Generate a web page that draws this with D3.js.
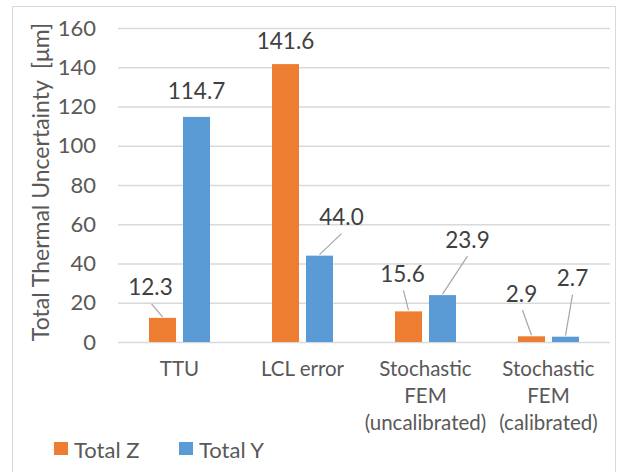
<!DOCTYPE html>
<html>
<head>
<meta charset="utf-8">
<script src="https://cdn.jsdelivr.net/npm/d3@7"></script>
<style>
  html, body { margin: 0; padding: 0; background: #fff; }
  svg text { font-family: Lato, "Open Sans", sans-serif; white-space: pre; }
</style>
</head>
<body>
<div id="chart"></div>
<script>
// --- data ---
const categories = [
    ["TTU"],
    ["LCL error"],
    ["Stochastic", "FEM", "(uncalibrated)"],
    ["Stochastic", "FEM", "(calibrated)"]
];
const seriesNames = ["Total Z", "Total Y"];
const totalZ = [12.3, 141.6, 15.6, 2.9];
const totalY = [114.7, 44.0, 23.9, 2.7];
const yTicks = [0, 20, 40, 60, 80, 100, 120, 140, 160];

// label nudges (px) where the labels were dragged away from the bars
const zLabelNudge = [[-12, -31], [0, -24], [-6, -38], [-10, -43]];
const yLabelNudge = [[0, -26], [22, -39], [25, -56], [7, -59]];

const COLORS = ["#ED7D31", "#5B9BD5"];
const TEXT = "#595959";
const GRID = "#D9D9D9";

const W = 622, H = 472;
const margin = { top: 28, right: 12, bottom: 130, left: 118 };
const width = W - margin.left - margin.right;
const height = H - margin.top - margin.bottom;

const svg = d3.select("#chart").append("svg")
    .attr("width", W)
    .attr("height", H);

// outer chart border
svg.append("rect")
    .attr("x", 12.5).attr("y", 6.5)
    .attr("width", 603).attr("height", 480)
    .attr("fill", "none")
    .attr("stroke", GRID);

const g = svg.append("g")
    .attr("transform", `translate(${margin.left},${margin.top})`);

const x0 = d3.scaleBand()
    .domain(d3.range(categories.length))
    .range([0, width]);

const barW = 27, gap = 7;

const y = d3.scaleLinear()
    .domain([0, 160])
    .range([height, 0]);

// gridlines + y tick labels
const yAxis = g.append("g")
    .call(d3.axisLeft(y).tickValues(yTicks).tickSize(-width).tickPadding(22));
yAxis.select(".domain").remove();
yAxis.selectAll(".tick line").attr("stroke", GRID).attr("stroke-width", 1.3);
yAxis.selectAll(".tick text")
    .attr("fill", TEXT)
    .style("font-size", "22px");

// y axis title
svg.append("text")
    .attr("transform", `translate(40,${margin.top + height / 2 - 3}) rotate(-90)`)
    .attr("text-anchor", "middle")
    .attr("dominant-baseline", "central")
    .attr("fill", TEXT)
    .style("font-size", "23px")
    .text("Total Thermal Uncertainty  [\u03bcm]");

// category labels
const catG = g.selectAll(".cat")
    .data(categories)
    .enter().append("text")
    .attr("class", "cat")
    .attr("x", (d, i) => x0(i) + x0.bandwidth() / 2)
    .attr("y", height + 34)
    .attr("text-anchor", "middle")
    .attr("fill", TEXT)
    .style("font-size", "20.5px");
catG.selectAll("tspan")
    .data(d => d)
    .enter().append("tspan")
    .attr("x", function () { return this.parentNode.getAttribute("x"); })
    .attr("dy", (d, i) => i === 0 ? 0 : 27)
    .text(d => d);

const series = [totalZ, totalY];
const nudges = [zLabelNudge, yLabelNudge];

function barCx(s, i) {
    const c = x0(i) + x0.bandwidth() / 2;
    return s === 0 ? c - gap / 2 - barW / 2 : c + gap / 2 + barW / 2;
}

series.forEach((vals, s) => {
    g.selectAll(`.bar-${s}`)
        .data(vals)
        .enter().append("rect")
        .attr("class", `bar-${s}`)
        .attr("x", (d, i) => barCx(s, i) - barW / 2)
        .attr("width", barW)
        .attr("y", d => y(d))
        .attr("height", d => height - y(d))
        .attr("fill", COLORS[s]);
});

// data labels and leader lines
series.forEach((vals, s) => {
    vals.forEach((v, i) => {
        const bx = barCx(s, i), by = y(v);
        const [dx, dy] = nudges[s][i];
        const tx = bx + dx, ty = by + dy;
        if (Math.abs(dy) > 28) {
            g.append("line")
                .attr("x1", tx + (dx < 0 ? 1 : 0)).attr("y1", ty + 17)
                .attr("x2", bx).attr("y2", by - 1)
                .attr("stroke", "#A6A6A6")
                .attr("stroke-width", 1.2);
        }
        g.append("text")
            .attr("x", tx)
            .attr("y", ty)
            .attr("text-anchor", "middle")
            .attr("dominant-baseline", "central")
            .attr("fill", "#404040")
            .style("font-size", "22.5px")
            .text(d3.format(".1f")(v));
    });
});

// legend
const legend = svg.append("g")
    .attr("transform", "translate(54,442)");
const legItems = legend.selectAll("g")
    .data(seriesNames)
    .enter().append("g")
    .attr("transform", (d, i) => `translate(${i * 125},0)`);
legItems.append("rect")
    .attr("width", 14).attr("height", 13)
    .attr("fill", (d, i) => COLORS[i]);
legItems.append("text")
    .attr("x", 20).attr("y", 7)
    .attr("dominant-baseline", "central")
    .attr("fill", TEXT)
    .style("font-size", "22px")
    .text(d => d);
</script>
</body>
</html>
